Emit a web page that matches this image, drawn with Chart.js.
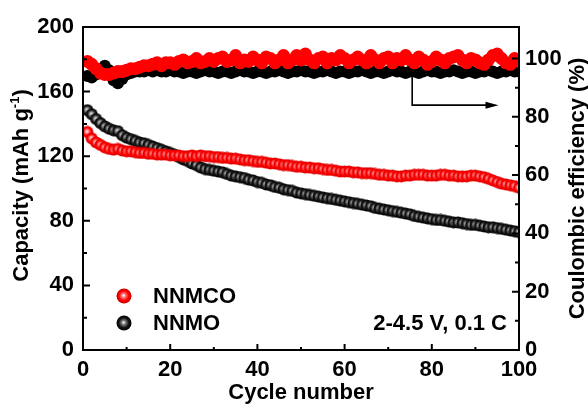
<!DOCTYPE html>
<html><head><meta charset="utf-8">
<script src="https://cdn.jsdelivr.net/npm/chart.js@4.4.1/dist/chart.umd.min.js"></script>
<style>html,body{margin:0;padding:0;background:#fff;}</style>
</head><body>
<canvas id="c" width="588" height="405"></canvas>
<script>
// ---------- data ----------
const cycles = [1,2,3,4,5,6,7,8,9,10,11,12,13,14,15,16,17,18,19,20,21,22,23,24,25,26,27,28,29,30,31,32,33,34,35,36,37,38,39,40,41,42,43,44,45,46,47,48,49,50,51,52,53,54,55,56,57,58,59,60,61,62,63,64,65,66,67,68,69,70,71,72,73,74,75,76,77,78,79,80,81,82,83,84,85,86,87,88,89,90,91,92,93,94,95,96,97,98,99,100];
const capNNMCO = [135,131,128.5,127,125.5,124.5,124,124.5,123.5,123,
 123,122.5,122,122,121.5,121.5,121,121,121,120.5,
 120.5,120.5,120,120,120.5,120,120.5,120,120,119.5,
 119.5,119,119,118.5,118.5,118,117.5,117.5,117,116.5,
 116.5,116,115.5,115.5,115,114.5,114.5,114,113.5,113.5,
 113,113,112.5,112.5,112,111.5,111.5,111,110.5,110.5,
 110.5,110,110,109.5,109.5,109.5,109,108.5,108.5,108,
 108,107.5,107.5,108,108,108.5,108.5,108.5,108,108,
 108,108.5,108.5,108,108,107.5,107.5,107.5,108,108,
 107.5,107,106,105,104,103,102.5,102,101.5,100.5];
const capNNMO = [148.5,146,143,140.5,138.5,137,136,135.5,133,131.5,
 130.5,129.5,128.5,128,127,126,125,124,123,122,
 121,119.5,118,117,115.5,114.5,113,112,111.5,111,
 110.5,110,109,108,107.5,107,106.5,105.5,105,104,
 103.5,102.5,102,101,100.5,99.5,99,98.5,97.5,97,
 96.5,96,95.5,95,94.5,94,93.5,93,92.5,92,
 91.5,91,90.5,90,89.5,89,88,87.5,87,86.5,
 86,85.5,85,84.5,84,83,82.5,82,81.5,81,
 80.5,80.5,80,79.5,79,79,78.5,78,77.5,77.5,
 77,76.5,76,76,75.5,75,74.5,74,73.5,73];
const ceNNMCO = [99,98,96.5,95,94.5,94.5,95,95.5,95.5,96,
 96.5,96.5,97,97.5,97.5,98,98.5,97.5,98.5,98.5,
 98,99,99.5,98.5,99,100,98.5,99,100,99,
 100,100.5,99,99.5,101,98.5,99.5,99,100.5,99.5,
 98.5,100.5,100,98.5,99.5,101,98.5,99.5,101,99.5,
 101.5,99.5,98.5,100,100.5,98.5,100,99.5,101,100,
 98.5,99.5,100.5,99.5,98.5,101,99.5,98.5,100,100.5,
 98.5,100,99.5,101,99.5,98.5,100.5,99.5,98,99,
 100.5,99.5,98.5,100,100.5,101,99.5,98.5,100,99.5,
 98.5,98,99.5,101,101.5,100,98.5,98,100,99];
const ceNNMO = [94,93.5,94.5,96,97.5,96,92.5,91.5,93,94.5,
 95,95.5,95.5,95.5,96,95.5,96,95.5,95.5,96,
 95.5,95.5,95,95.5,95.5,95,95.5,96,95.5,95.5,
 95,95.5,95.5,95,95.5,96,95.5,95.5,95,95.5,
 95.5,95,95.5,95.5,96,95.5,95,95.5,95.5,96,
 95.5,95.5,95,95.5,95.5,96,95.5,95,95.5,95.5,
 95,95.5,95.5,96,95.5,95,95.5,95.5,95,95.5,
 96,95.5,95.5,95,95.5,95.5,95,95.5,96,95.5,
 95.5,95,95.5,95.5,96,95.5,95,95.5,95.5,95,
 95.5,95.5,96,95.5,95,95.5,95.5,96,95.5,95.5];
const xTicks = [0,20,40,60,80,100];
const yTicks = [0,40,80,120,160,200];
const y2Ticks = [0,20,40,60,80,100];
const seriesNames = ['NNMCO','NNMO'];
const noteText = '2-4.5 V, 0.1 C';

// ---------- styling helpers ----------
function sphere(r, c0, c1, c2, c3){
  const cv = document.createElement('canvas');
  const s = Math.ceil(r*2)+1;
  cv.width = s; cv.height = s;
  const g = cv.getContext('2d');
  const cx = s/2, cy = s/2;
  const gr = g.createRadialGradient(cx-0.5, cy-0.6, 0, cx, cy, r);
  gr.addColorStop(0, c0); gr.addColorStop(0.3, c1); gr.addColorStop(0.65, c2); gr.addColorStop(1, c3);
  g.fillStyle = gr; g.beginPath(); g.arc(cx, cy, r, 0, Math.PI*2); g.fill();
  return cv;
}
const redBall = sphere(6, '#fff4f4', '#ff8a8a', '#ff0000', '#dd0000');
const blackBall = sphere(6, '#ffffff', '#9a9a9a', '#1a1a1a', '#000000');
const redLegend = sphere(7.5, '#ffffff', '#ff7070', '#ff0000', '#c80000');
const blackLegend = sphere(7.5, '#ffffff', '#777777', '#151515', '#000000');

const pts = arr => cycles.map((c,i)=>({x:c, y:arr[i]}));
const FONT = '"Liberation Sans", Arial, sans-serif';

const decor = {
  id:'decor',
  afterDatasetsDraw(chart){
    const ctx = chart.ctx, a = chart.chartArea;
    const sx = chart.scales.x, sy = chart.scales.y, sy2 = chart.scales.y2;
    ctx.save();
    // arrow from CE data to right axis
    ctx.strokeStyle = '#000'; ctx.lineWidth = 1.6; ctx.fillStyle = '#000';
    const ax = sx.getPixelForValue(75.5), ay0 = sy2.getPixelForValue(95.2), ay1 = sy2.getPixelForValue(84);
    const ex = sx.getPixelForValue(95.3);
    ctx.beginPath(); ctx.moveTo(ax, ay0); ctx.lineTo(ax, ay1); ctx.lineTo(ex-10, ay1); ctx.stroke();
    ctx.beginPath(); ctx.moveTo(ex, ay1); ctx.lineTo(ex-13, ay1-3.5); ctx.lineTo(ex-13, ay1+3.5); ctx.closePath(); ctx.fill();
    // frame
    ctx.lineWidth = 2; ctx.strokeStyle = '#000';
    ctx.strokeRect(a.left, a.top, a.right-a.left, a.bottom-a.top);
    // ticks (inward)
    ctx.lineWidth = 2;
    ctx.beginPath();
    for (let v=0; v<=100; v+=10){
      const p = sx.getPixelForValue(v), L = (v%20===0)?6:3;
      ctx.moveTo(p, a.bottom); ctx.lineTo(p, a.bottom-L);
    }
    for (let v=0; v<=200; v+=20){
      const p = sy.getPixelForValue(v), L = (v%40===0)?7:4;
      ctx.moveTo(a.left, p); ctx.lineTo(a.left+L, p);
    }
    for (let v=0; v<=100; v+=10){
      const p = sy2.getPixelForValue(v), L = (v%20===0)?7:4;
      ctx.moveTo(a.right, p); ctx.lineTo(a.right-L, p);
    }
    ctx.stroke();
    // legend
    ctx.drawImage(redLegend, 124-redLegend.width/2, 296-redLegend.height/2);
    ctx.drawImage(blackLegend, 124-blackLegend.width/2, 323-blackLegend.height/2);
    ctx.fillStyle = '#000'; ctx.font = 'bold 22px '+FONT; ctx.textBaseline = 'middle'; ctx.textAlign='left';
    ctx.fillText(seriesNames[0], 153, 297);
    ctx.fillText(seriesNames[1], 153, 324);
    ctx.textAlign = 'right';
    ctx.fillText(noteText, 507, 324);
    // axis titles
    ctx.textBaseline = 'alphabetic';
    ctx.textAlign = 'center';
    ctx.fillText('Cycle number', (a.left+a.right)/2, 399);
    // left title with superscript
    const cyl = (a.top+a.bottom)/2 - 3;
    ctx.save();
    ctx.translate(28, cyl); ctx.rotate(-Math.PI/2);
    const p1 = 'Capacity (mAh g', sup = '-1', p3 = ')';
    ctx.font = 'bold 22px '+FONT; const w1 = ctx.measureText(p1).width, w3 = ctx.measureText(p3).width;
    ctx.font = 'bold 13px '+FONT; const w2 = ctx.measureText(sup).width;
    let x0 = -(w1+w2+w3)/2;
    ctx.textAlign = 'left';
    ctx.font = 'bold 22px '+FONT; ctx.fillText(p1, x0, 0);
    ctx.font = 'bold 13px '+FONT; ctx.fillText(sup, x0+w1, -9);
    ctx.font = 'bold 22px '+FONT; ctx.fillText(p3, x0+w1+w2, 0);
    ctx.restore();
    ctx.save();
    ctx.translate(584, (a.top+a.bottom)/2); ctx.rotate(-Math.PI/2);
    ctx.textAlign = 'center'; ctx.font = 'bold 22px '+FONT;
    ctx.fillText('Coulombic efficiency (%)', 0, 0);
    ctx.restore();
    ctx.restore();
  }
};

const tickFont = {family: FONT, size: 22, weight: 'bold'};
new Chart(document.getElementById('c'), {
  type: 'scatter',
  data: { datasets: [
    {label:'NNMCO CE', data: pts(ceNNMCO), yAxisID:'y2', pointStyle:'circle', pointRadius:6.5, backgroundColor:'#ff0000', borderWidth:0, order:1},
    {label:'NNMO CE', data: pts(ceNNMO), yAxisID:'y2', pointStyle:'circle', pointRadius:6, backgroundColor:'#000000', borderWidth:0, order:2},
    {label:seriesNames[0], data: pts(capNNMCO), yAxisID:'y', pointStyle:redBall, order:3},
    {label:seriesNames[1], data: pts(capNNMO), yAxisID:'y', pointStyle:blackBall, order:4}
  ]},
  options: {
    responsive:false, animation:false, devicePixelRatio:1,
    layout:{padding:{top:27,left:0,right:0,bottom:0}},
    plugins:{legend:{display:false}, tooltip:{enabled:false}},
    scales:{
      x:{type:'linear', min:0, max:100, afterBuildTicks: s=>{s.ticks = xTicks.map(v=>({value:v}));},
         afterFit: s=>{s.height=55;},
         grid:{display:false, drawTicks:false}, border:{display:false},
         ticks:{font:tickFont, color:'#000', padding:7, maxRotation:0}},
      y:{type:'linear', position:'left', min:0, max:200, afterBuildTicks: s=>{s.ticks = yTicks.map(v=>({value:v}));},
         afterFit: s=>{s.width=83;},
         grid:{display:false, drawTicks:false}, border:{display:false},
         ticks:{font:tickFont, color:'#000', padding:9}},
      y2:{type:'linear', position:'right', min:0, max:110.8, afterBuildTicks: s=>{s.ticks = y2Ticks.map(v=>({value:v}));},
         afterFit: s=>{s.width=69;},
         grid:{display:false, drawTicks:false}, border:{display:false},
         ticks:{font:tickFont, color:'#000', padding:6}}
    }
  },
  plugins:[decor]
});
</script>
</body></html>
